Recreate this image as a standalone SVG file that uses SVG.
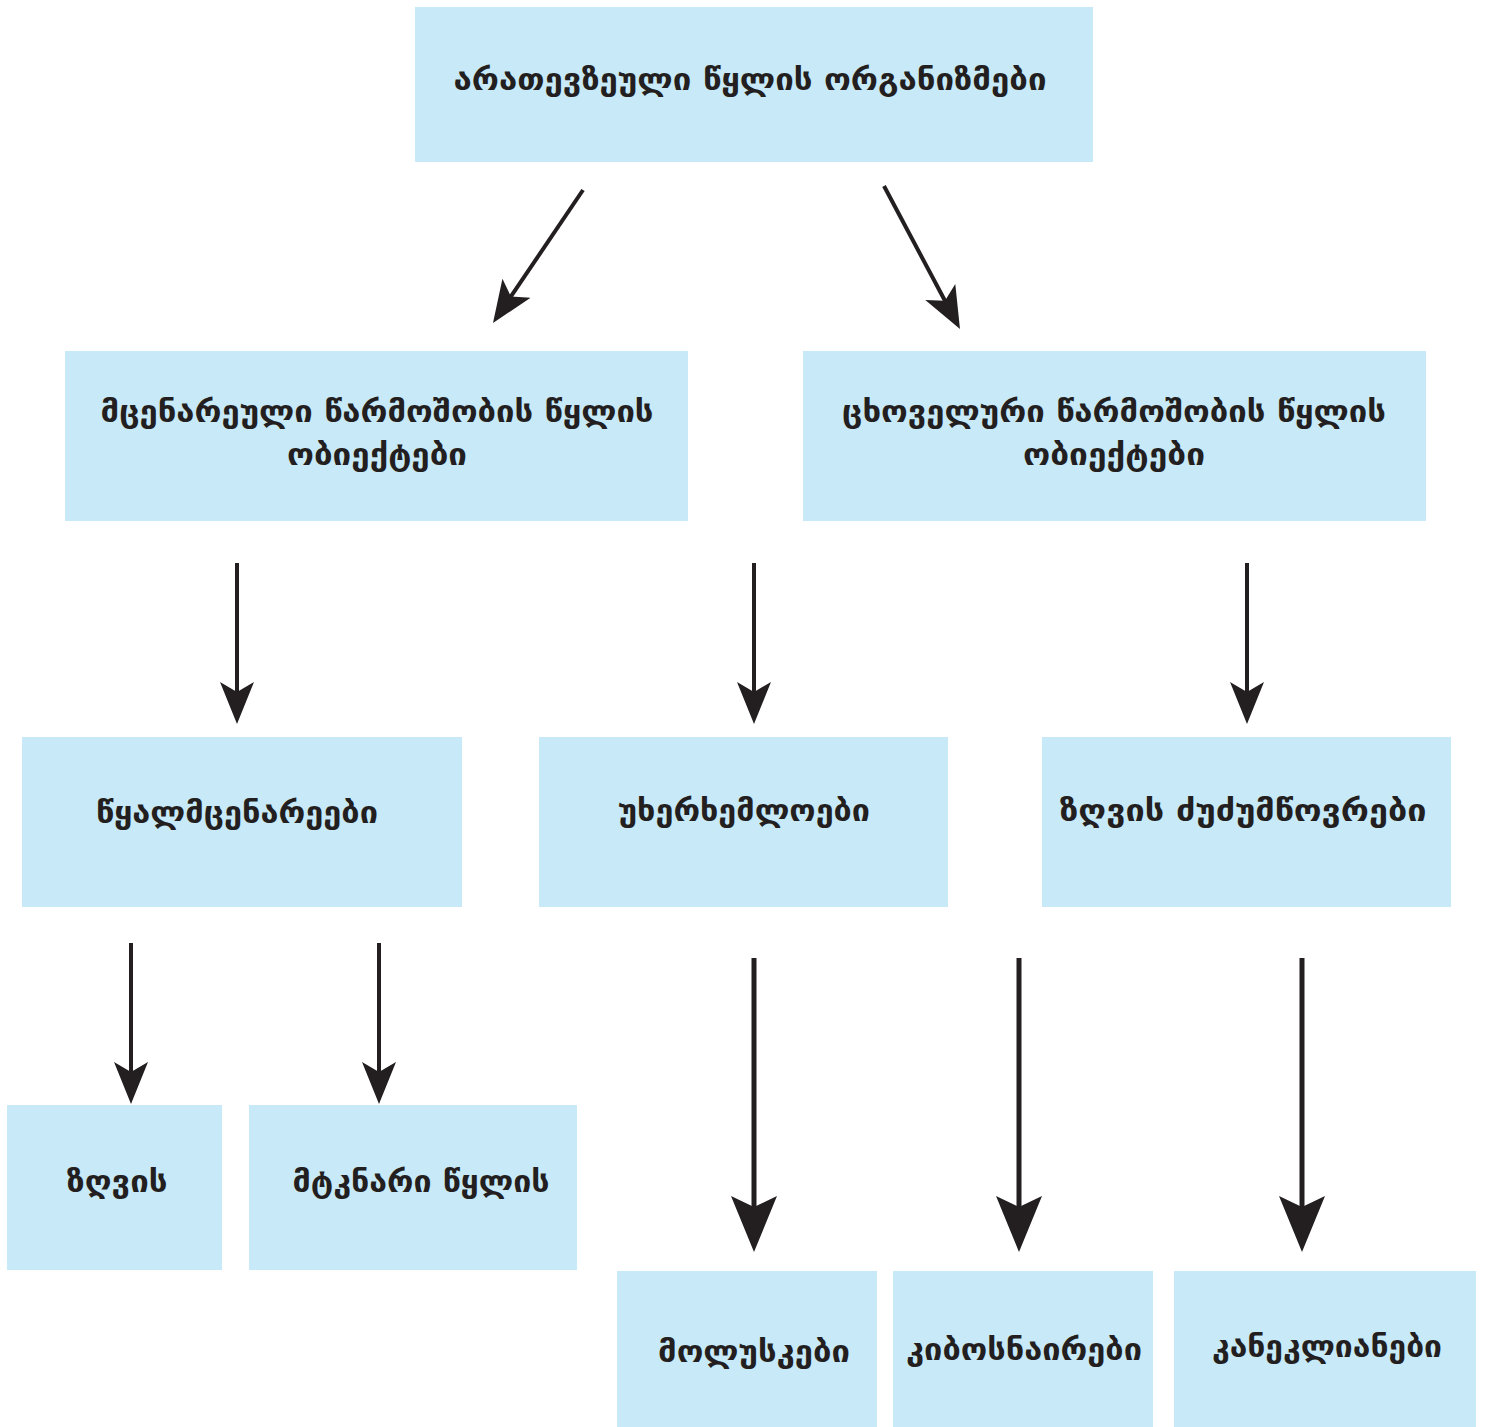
<svg xmlns="http://www.w3.org/2000/svg" width="1488" height="1427" viewBox="0 0 1488 1427">
<defs>
<style>
.box{fill:#c8e9f8}
.t{font-family:"DejaVu Sans","Noto Sans",sans-serif;font-weight:bold;font-size:30px;fill:#231f20;text-anchor:middle}
.c{stroke:#231f20;fill:none}
.s{stroke-width:4}
.l{stroke-width:5}
</style>
<marker id="ah" markerUnits="userSpaceOnUse" viewBox="0 0 42 40" markerWidth="42" markerHeight="40" refX="12" refY="20" orient="auto">
<path d="M42 20 L0 3 L10 20 L0 37 Z" fill="#231f20"/>
</marker>
<marker id="ahL" markerUnits="userSpaceOnUse" viewBox="0 0 56 46" markerWidth="56" markerHeight="46" refX="13" refY="23" orient="auto">
<path d="M56 23 L0 0 L11 23 L0 46 Z" fill="#231f20"/>
</marker>
</defs>
<rect width="1488" height="1427" fill="#ffffff"/>
<g id="n-top"><rect class="box" x="415" y="7" width="678" height="155"/><text class="t" x="750" y="90" textLength="593" lengthAdjust="spacingAndGlyphs">არათევზეული წყლის ორგანიზმები</text></g>
<g id="n-plant"><rect class="box" x="65" y="351" width="623" height="170"/><text class="t" x="377" y="422" textLength="553" lengthAdjust="spacingAndGlyphs">მცენარეული წარმოშობის წყლის</text><text class="t" x="377" y="465" textLength="180" lengthAdjust="spacingAndGlyphs">ობიექტები</text></g>
<g id="n-animal"><rect class="box" x="803" y="351" width="623" height="170"/><text class="t" x="1114" y="422" textLength="544" lengthAdjust="spacingAndGlyphs">ცხოველური წარმოშობის წყლის</text><text class="t" x="1114" y="465" textLength="182" lengthAdjust="spacingAndGlyphs">ობიექტები</text></g>
<g id="n-algae"><rect class="box" x="22" y="737" width="440" height="170"/><text class="t" x="237" y="823" textLength="282" lengthAdjust="spacingAndGlyphs">წყალმცენარეები</text></g>
<g id="n-invert"><rect class="box" x="539" y="737" width="409" height="170"/><text class="t" x="744" y="821" textLength="252" lengthAdjust="spacingAndGlyphs">უხერხემლოები</text></g>
<g id="n-mammals"><rect class="box" x="1042" y="737" width="409" height="170"/><text class="t" x="1243" y="821" textLength="367" lengthAdjust="spacingAndGlyphs">ზღვის ძუძუმწოვრები</text></g>
<g id="n-sea"><rect class="box" x="7" y="1105" width="215" height="165"/><text class="t" x="117" y="1192" textLength="101" lengthAdjust="spacingAndGlyphs">ზღვის</text></g>
<g id="n-fresh"><rect class="box" x="249" y="1105" width="328" height="165"/><text class="t" x="421" y="1192" textLength="257" lengthAdjust="spacingAndGlyphs">მტკნარი წყლის</text></g>
<g id="n-mollusc"><rect class="box" x="617" y="1271" width="260" height="156"/><text class="t" x="754" y="1362" textLength="192" lengthAdjust="spacingAndGlyphs">მოლუსკები</text></g>
<g id="n-crust"><rect class="box" x="893" y="1271" width="260" height="156"/><text class="t" x="1024" y="1360" textLength="236" lengthAdjust="spacingAndGlyphs">კიბოსნაირები</text></g>
<g id="n-echin"><rect class="box" x="1174" y="1271" width="302" height="156"/><text class="t" x="1327" y="1357" textLength="230" lengthAdjust="spacingAndGlyphs">კანეკლიანები</text></g>
<g id="connectors">
<line class="c s" x1="583" y1="190" x2="509.8" y2="298.2" marker-end="url(#ah)"/>
<line class="c s" x1="884" y1="186" x2="945.9" y2="302.5" marker-end="url(#ah)"/>
<line class="c s" x1="237" y1="563" x2="237" y2="694" marker-end="url(#ah)"/>
<line class="c s" x1="754" y1="563" x2="754" y2="694" marker-end="url(#ah)"/>
<line class="c s" x1="1247" y1="563" x2="1247" y2="694" marker-end="url(#ah)"/>
<line class="c s" x1="131" y1="943" x2="131" y2="1074" marker-end="url(#ah)"/>
<line class="c s" x1="379" y1="943" x2="379" y2="1074" marker-end="url(#ah)"/>
<line class="c l" x1="754" y1="958" x2="754" y2="1209" marker-end="url(#ahL)"/>
<line class="c l" x1="1019" y1="958" x2="1019" y2="1209" marker-end="url(#ahL)"/>
<line class="c l" x1="1302" y1="958" x2="1302" y2="1209" marker-end="url(#ahL)"/>
</g>
</svg>
